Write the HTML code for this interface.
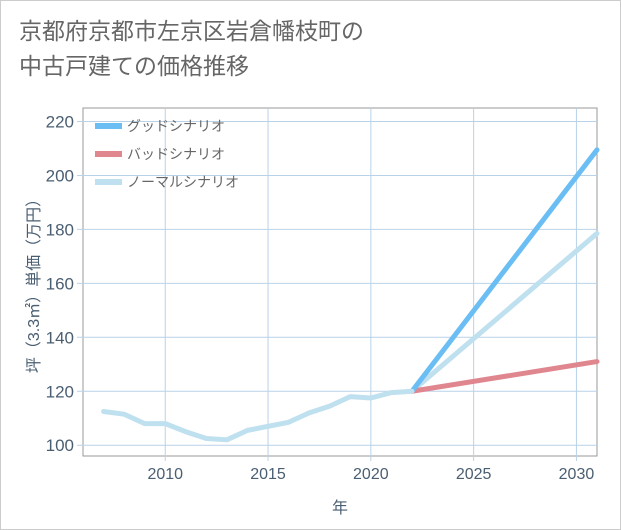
<!DOCTYPE html>
<html><head><meta charset="utf-8"><style>
body{margin:0;background:#fff;}
#wrap{position:relative;width:619px;height:528px;border:1px solid #ccc;background:#fff;font-family:"Liberation Sans","Noto Sans CJK JP",sans-serif;}
#title{position:absolute;left:18px;top:13px;font-size:23px;line-height:35px;color:#666;}
svg text{font-family:"Liberation Sans","Noto Sans CJK JP",sans-serif;}
</style></head><body>
<div id="wrap">
<div id="title">京都府京都市左京区岩倉幡枝町の<br>中古戸建ての価格推移</div>
<svg id="chart" width="621" height="530" style="position:absolute;left:-1px;top:-1px"></svg>
</div>
<script>
const years=[2007,2008,2009,2010,2011,2012,2013,2014,2015,2016,2017,2018,2019,2020,2021,2022];
const hist=[112.5,111.5,108,108,105,102.5,102,105.5,107,108.5,112,114.5,118,117.5,119.5,120];
const projYears=[2022,2031];
const good=[120,209.5];
const bad=[120,131];
const normal=[120,178.5];
const xTicks=[2010,2015,2020,2025,2030];
const yTicks=[100,120,140,160,180,200,220];
const L=83,R=597,T=108,B=456,X0=2006,X1=2031,Y0=96,Y1=225;
const sx=v=>L+(v-X0)/(X1-X0)*(R-L);
const sy=v=>B-(v-Y0)/(Y1-Y0)*(B-T);
const svg=document.getElementById('chart');
const NS='http://www.w3.org/2000/svg';
const TXT='#4a5e72';
function mk(t,a){const e=document.createElementNS(NS,t);for(const k in a)e.setAttribute(k,a[k]);svg.appendChild(e);return e;}
let r=mk('rect',{x:L,y:T,width:R-L,height:B-T,fill:'#fff',stroke:'#999','stroke-width':1});


xTicks.forEach(v=>{
 let g=mk('line',{x1:sx(v),x2:sx(v),y1:T,y2:B+5,stroke:'#b9d2e8','stroke-width':1});
 
 
 let t=mk('text',{x:sx(v),y:B+23,'text-anchor':'middle','font-size':16,fill:TXT});t.textContent=v;
 
 
});
yTicks.forEach(v=>{
 let g=mk('line',{x1:L-6,x2:R,y1:sy(v),y2:sy(v),stroke:'#b9d2e8','stroke-width':1});
 
 
 let t=mk('text',{x:L-9,y:sy(v)+6,'text-anchor':'end','font-size':17,fill:TXT});t.textContent=v;
 
 
});
function line(xs,ys,color,name){
 let p=mk('polyline',{points:xs.map((x,i)=>sx(x)+','+sy(ys[i])).join(' '),fill:'none',stroke:color,'stroke-width':5,'stroke-linecap':'round','stroke-linejoin':'round'});
 
 
}
line(projYears,normal,'#bfe0ef','normal-scenario-line');
line(projYears,bad,'#e0868f','bad-scenario-line');
line(projYears,good,'#6bbef3','good-scenario-line');
line(years,hist,'#bfe0ef','history-line');
const legNames=['グッドシナリオ','バッドシナリオ','ノーマルシナリオ'];
const legColors=['#6bbef3','#e0868f','#bfe0ef'];
legNames.forEach((n,i)=>{
 const y=126+i*28;
 let l=mk('line',{x1:95,x2:122,y1:y,y2:y,stroke:legColors[i],'stroke-width':6});
 
 
 let t=mk('text',{x:127,y:y+5,'font-size':14,fill:'#666'});t.textContent=n;
 
 
});
let xt=mk('text',{x:340,y:513,'text-anchor':'middle','font-size':16,fill:TXT});xt.textContent='年';


let yt=mk('text',{x:0,y:0,'text-anchor':'middle','font-size':16,fill:TXT,transform:'translate(39,282) rotate(-90)'});yt.textContent='坪（3.3㎡）単価（万円）';


</script>
</body></html>
